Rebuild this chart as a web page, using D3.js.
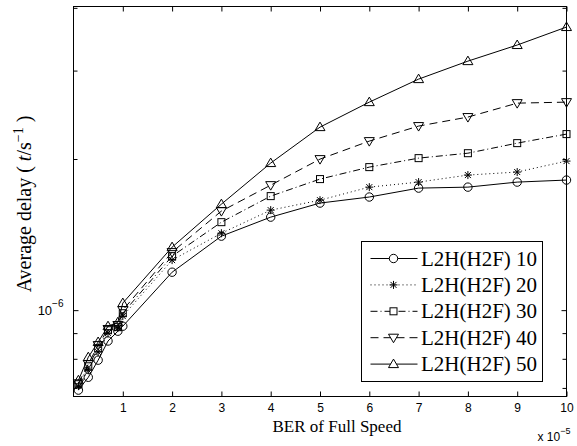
<!DOCTYPE html>
<html>
<head>
<meta charset="utf-8">
<script src="https://cdn.jsdelivr.net/npm/d3@7"></script>
<style>
  body { margin: 0; background: #fff; }
  svg { display: block; }
  .axis text { font-family: 'Liberation Sans', Arial, sans-serif; font-size: 12px; fill: #000; }
  .axis line { stroke: #000; }
  .axis path { display: none; }
  .serif { font-family: 'Liberation Serif', 'Times New Roman', Times, serif; }
  .sans { font-family: 'Liberation Sans', Arial, sans-serif; }
</style>
</head>
<body>
<div id="chart"></div>
<script>
// BER of full speed (x 1e-5)
const berValues = [0.1, 0.3, 0.5, 0.7, 0.9, 1, 2, 3, 4, 5, 6, 7, 8, 9, 10];

// average delay, in units of 1e-6 t/s^-1
const delay10 = [0.693, 0.735, 0.795, 0.868, 0.908, 0.929, 1.190, 1.404, 1.532, 1.634, 1.680, 1.750, 1.758, 1.799, 1.816];
const delay20 = [0.706, 0.759, 0.825, 0.900, 0.921, 0.973, 1.258, 1.423, 1.582, 1.656, 1.758, 1.799, 1.858, 1.884, 1.981];
const delay30 = [0.712, 0.773, 0.840, 0.912, 0.925, 0.986, 1.281, 1.497, 1.687, 1.824, 1.927, 2.008, 2.054, 2.151, 2.242];
const delay40 = [0.715, 0.781, 0.852, 0.917, 0.934, 1.000, 1.305, 1.575, 1.774, 1.999, 2.171, 2.326, 2.424, 2.584, 2.596];
const delay50 = [0.725, 0.806, 0.864, 0.929, 0.946, 1.033, 1.335, 1.626, 1.963, 2.315, 2.596, 2.885, 3.133, 3.373, 3.663];

const seriesNames = ["L2H(H2F) 10", "L2H(H2F) 20", "L2H(H2F) 30", "L2H(H2F) 40", "L2H(H2F) 50"];
const seriesMarkers = ["circle", "star", "square", "triangleDown", "triangleUp"];
const seriesDashes = [null, "1,3", "7,3,1,3", "8,5", null];

const xTickValues = [1, 2, 3, 4, 5, 6, 7, 8, 9, 10];
const yMajorTicks = [1];
const yMinorTicks = [0.7, 0.8, 0.9, 2, 3, 4];

const allSeries = [delay10, delay20, delay30, delay40, delay50].map((vals, i) => ({
    name: seriesNames[i],
    marker: seriesMarkers[i],
    dash: seriesDashes[i],
    points: vals.map((v, j) => [berValues[j], v])
}));

const W = 577, H = 446;
const margin = {top: 6.5, right: 10.5, bottom: 49.5, left: 73.5};
const width = W - margin.left - margin.right;
const height = H - margin.top - margin.bottom;

const svg = d3.select("#chart").append("svg")
    .attr("width", W)
    .attr("height", H);

const g = svg.append("g")
    .attr("transform", `translate(${margin.left},${margin.top})`);

const x = d3.scaleLinear().domain([0, 10]).range([0, width]);
const y = d3.scaleLog().domain([0.673, 4.025]).range([height, 0]);

// ticks, pointing inward like matlab
g.append("g").attr("class", "axis")
    .attr("transform", `translate(0,${height})`)
    .call(d3.axisBottom(x).tickValues(xTickValues).tickSizeInner(-5).tickSizeOuter(0).tickPadding(7));
g.append("g").attr("class", "axis")
    .call(d3.axisTop(x).tickValues(xTickValues).tickSizeInner(-5).tickSizeOuter(0).tickFormat(""));

[yMajorTicks, yMinorTicks].forEach((vals, k) => {
    const len = k === 0 ? 5 : 4;
    g.append("g").attr("class", "axis")
        .call(d3.axisLeft(y).tickValues(vals).tickSizeInner(-len).tickSizeOuter(0).tickFormat(""));
    g.append("g").attr("class", "axis")
        .attr("transform", `translate(${width},0)`)
        .call(d3.axisRight(y).tickValues(vals).tickSizeInner(-len).tickSizeOuter(0).tickFormat(""));
});

// y major label 10^-6
yMajorTicks.forEach(v => {
    const t = g.append("text")
        .attr("class", "sans")
        .attr("x", -10)
        .attr("y", y(v) + 5)
        .attr("text-anchor", "end")
        .style("font-size", "13px");
    t.append("tspan").text("10");
    t.append("tspan").attr("dy", -8).style("font-size", "10px").text("\u22126");
});

// exponent label for x
const xe = g.append("text")
    .attr("class", "sans")
    .attr("x", width - 29)
    .attr("y", height + 44)
    .style("font-size", "12px");
xe.append("tspan").text("x 10");
xe.append("tspan").attr("dy", -7).style("font-size", "9px").text("\u22125");

// frame
g.append("rect")
    .attr("width", width)
    .attr("height", height)
    .attr("fill", "none")
    .attr("stroke", "#000")
    .attr("stroke-width", 1);

// markers
function drawMarker(sel, type, cx, cy) {
    if (type === "circle") {
        sel.append("circle").attr("cx", cx).attr("cy", cy).attr("r", 4.2);
    } else if (type === "square") {
        sel.append("rect").attr("x", cx - 3.5).attr("y", cy - 3.5).attr("width", 7).attr("height", 7);
    } else if (type === "triangleUp") {
        sel.append("path").attr("d", `M${cx},${cy - 5}L${cx + 5},${cy + 3.5}L${cx - 5},${cy + 3.5}Z`);
    } else if (type === "triangleDown") {
        sel.append("path").attr("d", `M${cx},${cy + 5}L${cx + 5},${cy - 3.5}L${cx - 5},${cy - 3.5}Z`);
    } else if (type === "star") {
        const r = 4, d = 3;
        sel.append("path").attr("d",
            `M${cx},${cy - r}V${cy + r}M${cx - r},${cy}H${cx + r}` +
            `M${cx - d},${cy - d}L${cx + d},${cy + d}M${cx - d},${cy + d}L${cx + d},${cy - d}`);
    }
}

const line = d3.line()
    .x(d => x(d[0]))
    .y(d => y(d[1]));

const plot = g.append("g");

allSeries.forEach(s => {
    plot.append("path")
        .datum(s.points)
        .attr("d", line)
        .attr("fill", "none")
        .attr("stroke", "#000")
        .attr("stroke-width", 1)
        .attr("stroke-dasharray", s.dash);
    const mg = plot.append("g")
        .attr("fill", "none")
        .attr("stroke", "#000")
        .attr("stroke-width", 1);
    s.points.forEach(p => drawMarker(mg, s.marker, x(p[0]), y(p[1])));
});

// legend
const lx = 361.5 - margin.left, ly = 241.5 - margin.top;
const legend = g.append("g").attr("transform", `translate(${lx},${ly})`);
legend.append("rect")
    .attr("width", 181)
    .attr("height", 140)
    .attr("fill", "#fff")
    .attr("stroke", "#000")
    .attr("stroke-width", 1);

allSeries.forEach((s, i) => {
    const cy = 17 + i * 26.4;
    legend.append("line")
        .attr("x1", 9).attr("x2", 56)
        .attr("y1", cy).attr("y2", cy)
        .attr("stroke", "#000")
        .attr("stroke-width", 1)
        .attr("stroke-dasharray", s.dash);
    const mg = legend.append("g").attr("fill", "#fff").attr("stroke", "#000").attr("stroke-width", 1);
    drawMarker(mg, s.marker, 32, cy);
    legend.append("text")
        .attr("class", "serif")
        .attr("x", 59.5)
        .attr("y", cy + 7)
        .style("font-size", "21px")
        .text(s.name);
});

// axis titles
svg.append("text")
    .attr("class", "serif")
    .attr("x", 337)
    .attr("y", 432)
    .attr("text-anchor", "middle")
    .style("font-size", "17px")
    .text("BER of Full Speed");

const yl = svg.append("text")
    .attr("class", "serif")
    .attr("transform", "translate(31,204) rotate(-90)")
    .attr("text-anchor", "middle")
    .style("font-size", "20px");
yl.append("tspan").text("Average delay ( ");
yl.append("tspan").style("font-style", "italic").text("t");
yl.append("tspan").text("/s");
yl.append("tspan").attr("dy", -8).style("font-size", "14px").text("\u22121");
yl.append("tspan").attr("dy", 8).text(" )");
</script>
</body>
</html>
